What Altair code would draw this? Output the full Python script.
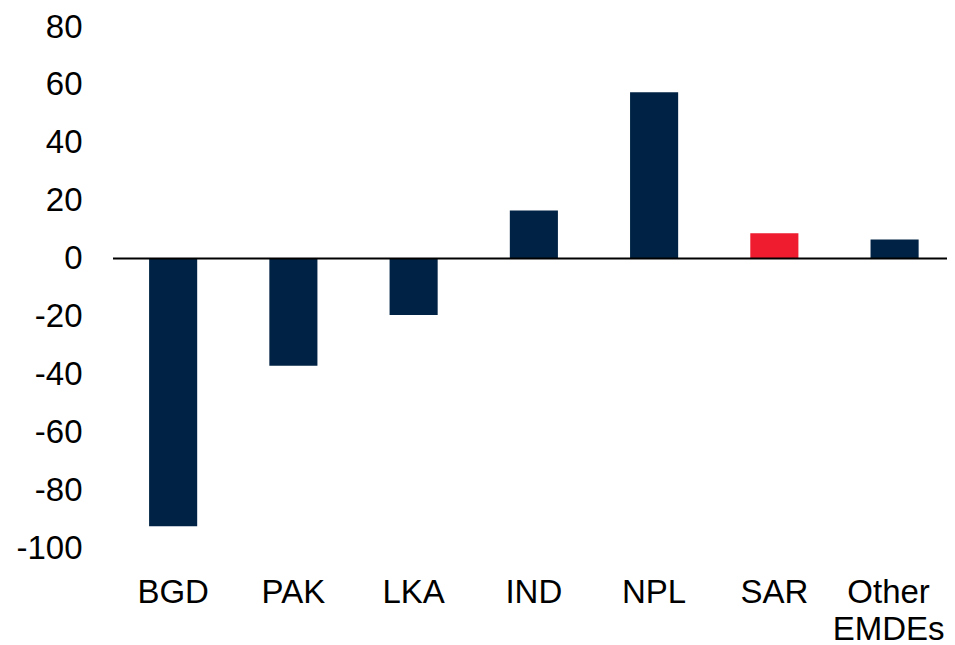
import altair as alt
import pandas as pd

categories = ["BGD", "PAK", "LKA", "IND", "NPL", "SAR", "Other EMDEs"]
values = [-92.5, -37.0, -19.5, 16.6, 57.5, 8.7, 6.6]
highlight = ["no", "no", "no", "no", "no", "yes", "no"]

df = pd.DataFrame({"cat": categories, "value": values, "hl": highlight})

FONT = "Liberation Sans"

bars = alt.Chart(df).mark_bar().encode(
    x=alt.X("cat:N", sort=categories, title=None,
            scale=alt.Scale(paddingInner=0.6, paddingOuter=0.268, align=0.56, round=False),
            axis=alt.Axis(labelAngle=0, domain=False, ticks=False, tickSize=0,
                          labelPadding=28, labelFontSize=33, labelFont=FONT,
                          labelColor="black", labelLineHeight=37,
                          labelOffset={"condition": {"test": "datum.value === 'Other EMDEs'", "value": -6},
                                       "value": 0},
                          labelExpr="split(datum.label, ' ')")),
    y=alt.Y("value:Q", title=None,
            scale=alt.Scale(domain=[-100, 80], nice=False),
            axis=alt.Axis(values=list(range(-100, 81, 20)), domain=False, ticks=False,
                          tickSize=0, grid=False, labelPadding=31, labelFontSize=33,
                          labelFont=FONT, labelColor="black",
                          labelExpr="datum.value < 0 ? '-' + format(-datum.value, 'd') : format(datum.value, 'd')")),
    color=alt.Color("hl:N", scale=alt.Scale(domain=["no", "yes"], range=["#002345", "#EE1C2E"]),
                    legend=None),
)

zero = alt.Chart(pd.DataFrame({"z": [0]})).mark_rule(color="black", strokeWidth=2).encode(
    y="z:Q"
)

chart = alt.layer(bars, zero).properties(
    width=834, height=521,
    autosize=alt.AutoSizeParams(type="none"),
    padding={"left": 105, "top": 19, "right": 0, "bottom": 100},
).configure_view(stroke=None)

chart.save("out.html", embed_options={"renderer": "svg", "actions": False})
